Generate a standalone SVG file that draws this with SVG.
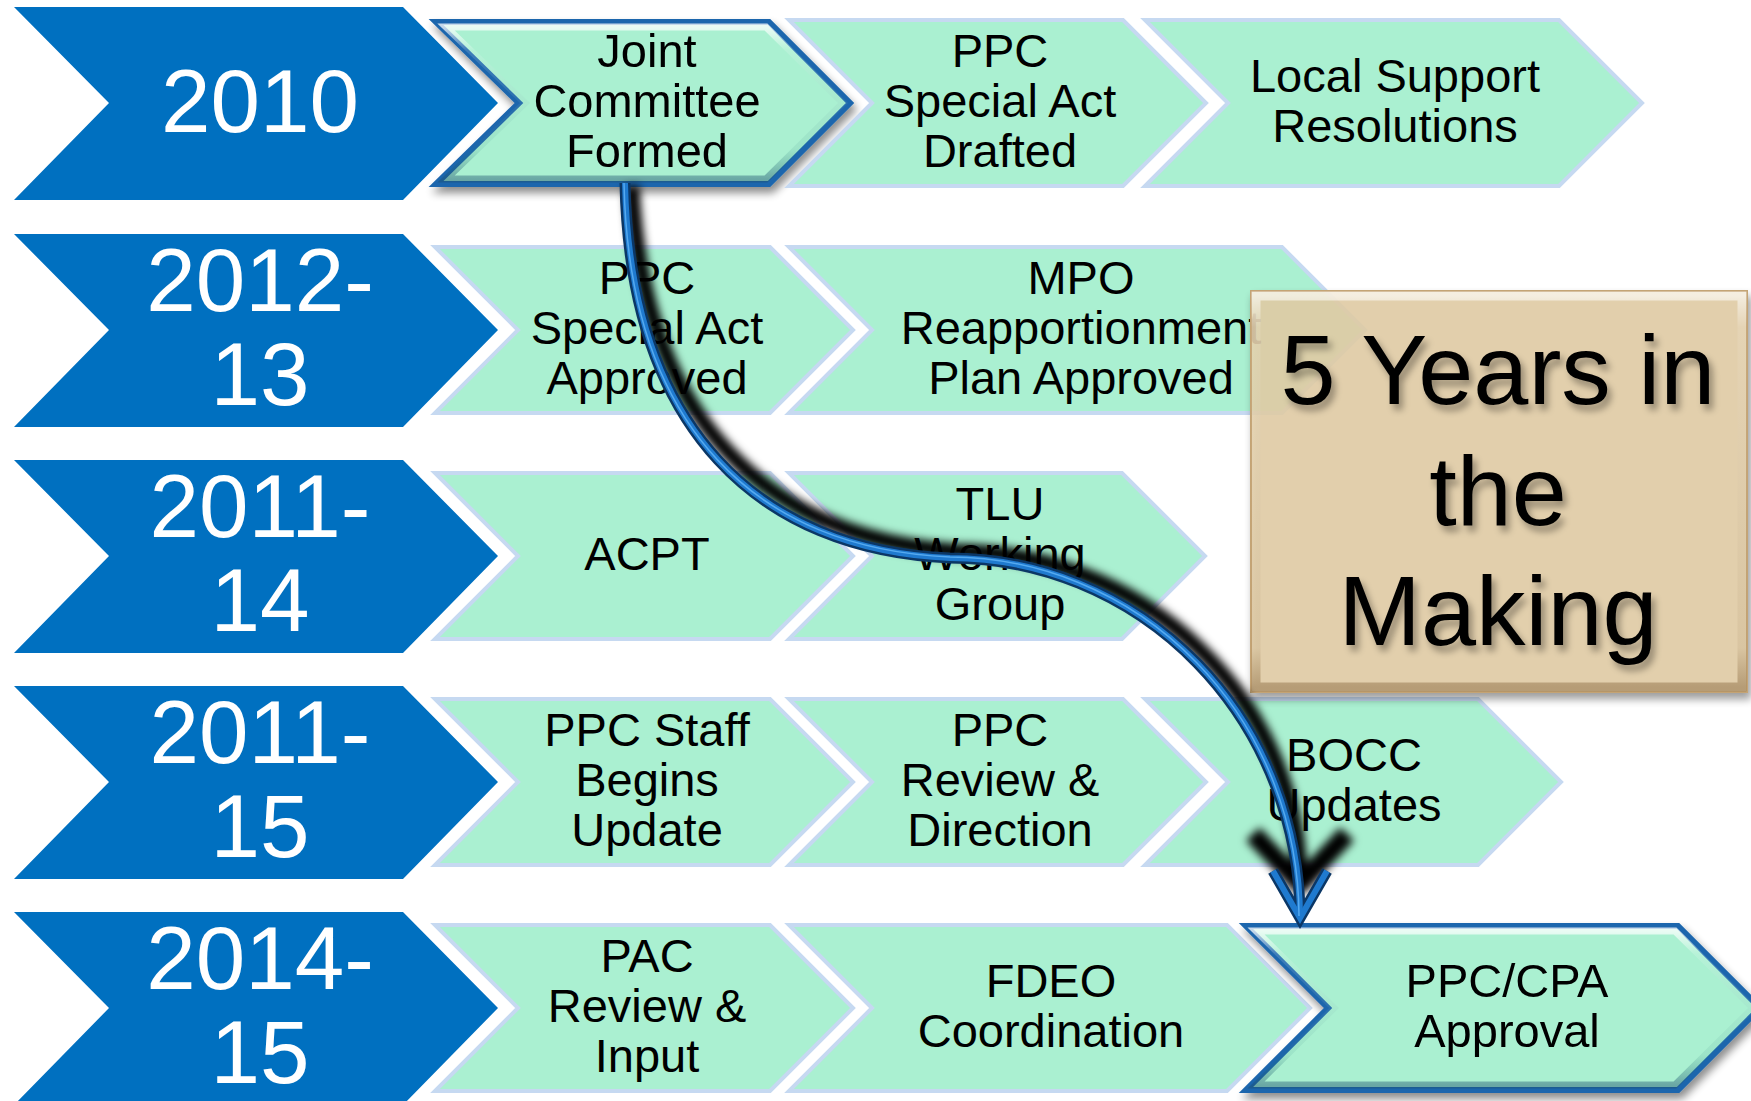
<svg xmlns="http://www.w3.org/2000/svg" width="1751" height="1101" viewBox="0 0 1751 1101">
<style>
.blue{fill:#0070C0}
.yr{font-family:"Liberation Sans",Arial,sans-serif;font-size:89px;fill:#FFFFFF;text-anchor:middle}
.g{fill:#AAF0D1;stroke:#C6D9F1;stroke-width:4;stroke-linejoin:miter}
.hl{fill:#AAF0D1;stroke:#1D66AD;stroke-width:6;stroke-linejoin:miter}
.bev{fill:none;stroke:url(#bevGrad);stroke-width:7}
.t{font-family:"Liberation Sans",Arial,sans-serif;font-size:47px;fill:#000000;text-anchor:middle}
.big{font-family:"Liberation Sans",Arial,sans-serif;font-size:99px;fill:#000000;text-anchor:middle}
.arrDark{fill:none;stroke:#0B3766;stroke-width:11}
.arrBlue{fill:none;stroke:#1F7ACF;stroke-width:6}
.arrHi{fill:none;stroke:#55AAF0;stroke-width:1.5}
.arrSh{fill:none;stroke:#000000;stroke-width:15}
</style>
<defs>
<linearGradient id="bevGrad" x1="0" y1="0" x2="0" y2="1">
<stop offset="0" stop-color="#FFFFFF" stop-opacity="0.75"/>
<stop offset="0.15" stop-color="#FFFFFF" stop-opacity="0.15"/>
<stop offset="0.8" stop-color="#2A7A7A" stop-opacity="0.1"/>
<stop offset="1" stop-color="#1D4F6F" stop-opacity="0.45"/>
</linearGradient>
<linearGradient id="tanBev" x1="0" y1="0" x2="0" y2="1">
<stop offset="0" stop-color="#FFFFFF" stop-opacity="0.6"/>
<stop offset="0.08" stop-color="#FFFFFF" stop-opacity="0.1"/>
<stop offset="0.9" stop-color="#8A6A40" stop-opacity="0.1"/>
<stop offset="1" stop-color="#8A6A40" stop-opacity="0.5"/>
</linearGradient>
<filter id="drop" x="-10%" y="-10%" width="125%" height="130%">
<feGaussianBlur in="SourceAlpha" stdDeviation="4"/>
<feOffset dx="3" dy="6" result="b"/>
<feComponentTransfer><feFuncA type="linear" slope="0.45"/></feComponentTransfer>
<feMerge><feMergeNode/><feMergeNode in="SourceGraphic"/></feMerge>
</filter>
<filter id="txtSh" x="-10%" y="-10%" width="130%" height="140%">
<feGaussianBlur in="SourceAlpha" stdDeviation="3.5"/>
<feOffset dx="4" dy="6"/>
<feComponentTransfer><feFuncA type="linear" slope="0.35"/></feComponentTransfer>
<feMerge><feMergeNode/><feMergeNode in="SourceGraphic"/></feMerge>
</filter>
<filter id="blur" x="-20%" y="-20%" width="140%" height="140%">
<feGaussianBlur stdDeviation="4"/>
</filter>
<marker id="mDark" markerUnits="userSpaceOnUse" orient="auto" refX="0" refY="0" markerWidth="10" markerHeight="10" overflow="visible">
<path d="M-47,-27 L0,0 L-47,27" fill="none" stroke="#0B3766" stroke-width="11" stroke-linejoin="miter"/>
</marker>
<marker id="mBlue" markerUnits="userSpaceOnUse" orient="auto" refX="0" refY="0" markerWidth="10" markerHeight="10" overflow="visible">
<path d="M-47,-27 L0,0 L-47,27" fill="none" stroke="#1F7ACF" stroke-width="6" stroke-linejoin="miter"/>
</marker>
<marker id="mShadow" markerUnits="userSpaceOnUse" orient="auto" refX="0" refY="0" markerWidth="10" markerHeight="10" overflow="visible">
<path d="M-50,-47 L0,0 L-50,47" fill="none" stroke="#000000" stroke-width="19" stroke-linejoin="round"/>
</marker>
</defs>
<rect width="1751" height="1101" fill="#FFFFFF"/>

<g id="year-2010">
<polygon class="blue" points="14,7 403,7 498,103 403,200 14,200 109,103"/>
<text class="yr" x="260" y="132">2010</text>
</g>
<g id="year-2012-13">
<polygon class="blue" points="14,234 403,234 498,330 403,427 14,427 109,330"/>
<text class="yr" x="260" y="311">2012-</text>
<text class="yr" x="260" y="405">13</text>
</g>
<g id="year-2011-14">
<polygon class="blue" points="14,460 403,460 498,556 403,653 14,653 109,556"/>
<text class="yr" x="260" y="537">2011-</text>
<text class="yr" x="260" y="631">14</text>
</g>
<g id="year-2011-15">
<polygon class="blue" points="14,686 403,686 498,782 403,879 14,879 109,782"/>
<text class="yr" x="260" y="763">2011-</text>
<text class="yr" x="260" y="857">15</text>
</g>
<g id="year-2014-15">
<polygon class="blue" points="14,912 403,912 498,1008 403,1105 14,1105 109,1008"/>
<text class="yr" x="260" y="989">2014-</text>
<text class="yr" x="260" y="1083">15</text>
</g>

<g id="joint-committee-formed" filter="url(#drop)">
<polygon class="hl" points="436,22 769,22 850,103 769,184 436,184 519,103"/>
<polygon class="bev" points="446,27 766,27 843,103 766,179 446,179 525,103"/>
<text class="t" x="647" y="67">Joint</text>
<text class="t" x="647" y="117">Committee</text>
<text class="t" x="647" y="167">Formed</text>
</g>
<g id="ppc-special-act-drafted">
<polygon class="g" points="789,20 1123,20 1206,103 1123,186 789,186 872,103"/>
<text class="t" x="1000" y="67">PPC</text>
<text class="t" x="1000" y="117">Special Act</text>
<text class="t" x="1000" y="167">Drafted</text>
</g>
<g id="local-support-resolutions">
<polygon class="g" points="1145,20 1559,20 1642,103 1559,186 1145,186 1228,103"/>
<text class="t" x="1395" y="92">Local Support</text>
<text class="t" x="1395" y="142">Resolutions</text>
</g>

<g id="ppc-special-act-approved">
<polygon class="g" points="435,247 770,247 853,330 770,413 435,413 518,330"/>
<text class="t" x="647" y="294">PPC</text>
<text class="t" x="647" y="344">Special Act</text>
<text class="t" x="647" y="394">Approved</text>
</g>
<g id="mpo-reapportionment">
<polygon class="g" points="789,247 1282,247 1365,330 1282,413 789,413 872,330"/>
<text class="t" x="1081" y="294">MPO</text>
<text class="t" x="1081" y="344">Reapportionment</text>
<text class="t" x="1081" y="394">Plan Approved</text>
</g>

<g id="acpt">
<polygon class="g" points="435,473 770,473 853,556 770,639 435,639 518,556"/>
<text class="t" x="647" y="570">ACPT</text>
</g>
<g id="tlu-working-group">
<polygon class="g" points="789,473 1122,473 1205,556 1122,639 789,639 872,556"/>
<text class="t" x="1000" y="520">TLU</text>
<text class="t" x="1000" y="570">Working</text>
<text class="t" x="1000" y="620">Group</text>
</g>

<g id="ppc-staff-begins-update">
<polygon class="g" points="435,699 770,699 853,782 770,865 435,865 518,782"/>
<text class="t" x="647" y="746">PPC Staff</text>
<text class="t" x="647" y="796">Begins</text>
<text class="t" x="647" y="846">Update</text>
</g>
<g id="ppc-review-direction">
<polygon class="g" points="789,699 1123,699 1206,782 1123,865 789,865 872,782"/>
<text class="t" x="1000" y="746">PPC</text>
<text class="t" x="1000" y="796">Review &amp;</text>
<text class="t" x="1000" y="846">Direction</text>
</g>
<g id="bocc-updates">
<polygon class="g" points="1145,699 1478,699 1561,782 1478,865 1145,865 1228,782"/>
<text class="t" x="1354" y="771">BOCC</text>
<text class="t" x="1354" y="821">Updates</text>
</g>

<g id="pac-review-input">
<polygon class="g" points="435,925 770,925 853,1008 770,1091 435,1091 518,1008"/>
<text class="t" x="647" y="972">PAC</text>
<text class="t" x="647" y="1022">Review &amp;</text>
<text class="t" x="647" y="1072">Input</text>
</g>
<g id="fdeo-coordination">
<polygon class="g" points="789,925 1227,925 1310,1008 1227,1091 789,1091 872,1008"/>
<text class="t" x="1051" y="997">FDEO</text>
<text class="t" x="1051" y="1047">Coordination</text>
</g>
<g id="ppc-cpa-approval" filter="url(#drop)">
<polygon class="hl" points="1246,926 1678,926 1760,1008 1678,1090 1246,1090 1328,1008"/>
<polygon class="bev" points="1256,931 1675,931 1753,1008 1675,1085 1256,1085 1334,1008"/>
<text class="t" x="1507" y="997">PPC/CPA</text>
<text class="t" x="1507" y="1047">Approval</text>
</g>

<g id="five-years-box">
<g filter="url(#drop)">
<rect x="1251" y="291" width="496" height="401" fill="#E5D0A8" fill-opacity="0.85" stroke="#C4A474" stroke-width="2"/>
</g>
<rect x="1256" y="296" width="486" height="391" fill="none" stroke="url(#tanBev)" stroke-width="9"/>
<g filter="url(#txtSh)">
<text class="big" x="1498" y="404">5 Years in</text>
<text class="big" x="1498" y="525">the</text>
<text class="big" x="1498" y="645">Making</text>
</g>
</g>

<g id="connectors">
<g filter="url(#blur)">
<path class="arrSh" d="M632,186 C643,425 773,538 955,551 A345,333 0 0 1 1300,884" marker-end="url(#mShadow)"/>
</g>
<path class="arrDark" d="M625,183 C630,430 760,550 950,558 A350,360 0 0 1 1300,918" marker-end="url(#mDark)"/>
<path class="arrBlue" d="M625,183 C630,430 760,550 950,558 A350,360 0 0 1 1300,918" marker-end="url(#mBlue)"/>
<path class="arrHi" d="M624,183 C629,430 759,549 950,557 A350,360 0 0 1 1299,916"/>
</g>
</svg>
